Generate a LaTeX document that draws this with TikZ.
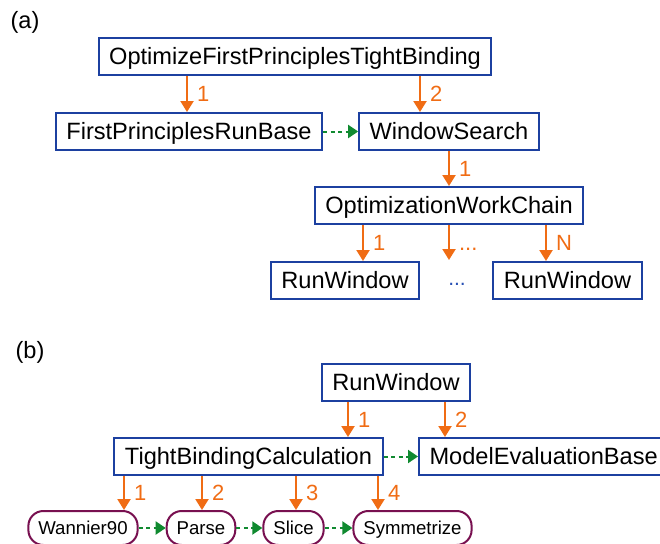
\documentclass[tikz,border=0pt]{standalone}
\usepackage{fontspec}
\setmainfont{Liberation Sans}
\usepackage{tikz}
\usetikzlibrary{arrows.meta,positioning}
\definecolor{boxblue}{RGB}{28,64,160}
\definecolor{callorange}{RGB}{240,108,20}
\definecolor{linkgreen}{RGB}{16,138,48}
\definecolor{calcred}{RGB}{120,16,80}
\definecolor{dotblue}{RGB}{40,80,180}

\begin{document}
\begin{tikzpicture}[x=1pt, y=-1pt,
    wfbox/.style={draw=boxblue, line width=2pt, fill=white, minimum height=37pt, inner xsep=10.5pt, text height=16.8pt, text depth=0pt, font=\fontsize{23.6}{28}\selectfont},
    calcbox/.style={draw=calcred, line width=2pt, rounded corners=15pt, fill=white, minimum height=34pt, inner xsep=10pt, text height=13.4pt, text depth=0pt, font=\fontsize{18.6}{22}\selectfont},
    callarrow/.style={draw=callorange, line width=2.2pt, -{Triangle[length=11pt,width=13pt]}},
    linkarrow/.style={draw=linkgreen, line width=2pt, dash pattern=on 4pt off 3.5pt, -{Triangle[length=10pt,width=13pt]}},
    callorder/.style={anchor=west, text=callorange, inner sep=0pt, xshift=9pt, text height=15.5pt, text depth=0pt, font=\fontsize{22}{26}\selectfont},
    panel/.style={font=\fontsize{23.6}{28}\selectfont}]
    \useasboundingbox (0,0) rectangle (660,543);

    % (a)
    \node[panel] (tagA) at (25,22) {(a)};
    \node[wfbox] (opt) at (295,56.5) {OptimizeFirstPrinciplesTightBinding};
    \node[wfbox] (fprb) at (189,131.5) {FirstPrinciplesRunBase};
    \node[wfbox] (wsearch) at (449,131.5) {WindowSearch};
    \node[wfbox] (owc) at (449,205.5) {OptimizationWorkChain};
    \node[wfbox] (runA) at (345,280.5) {RunWindow};
    \node[wfbox] (runN) at (567.5,280.5) {RunWindow};
    \node[text=dotblue, font=\fontsize{21}{25}\selectfont] (moreruns) at (457,284) {...};
    \coordinate (moretip) at (449,260);

    \draw[callarrow] ([xshift=-108pt]opt.south) -- node[callorder] {1} ([xshift=-2pt]fprb.north);
    \draw[callarrow] ([xshift=125pt]opt.south) -- node[callorder] {2} ([xshift=-29pt]wsearch.north);
    \draw[linkarrow] (fprb.east) -- (wsearch.west);
    \draw[callarrow] (wsearch.south) -- node[callorder] {1} (owc.north);
    \draw[callarrow] ([xshift=-86pt]owc.south) -- node[callorder] {1} ([xshift=18pt]runA.north);
    \draw[callarrow] (owc.south) -- node[callorder] {...} (moretip);
    \draw[callarrow] ([xshift=97pt]owc.south) -- node[callorder] {N} ([xshift=-21.5pt]runN.north);

    % (b)
    \node[panel] (tagB) at (30,352) {(b)};
    \node[wfbox] (run) at (396,382) {RunWindow};
    \node[wfbox] (tbc) at (248.5,456.5) {TightBindingCalculation};
    \node[wfbox, anchor=west] (meb) at (418,456.5) {ModelEvaluationBase};
    \node[calcbox] (wannier) at (83,528) {Wannier90};
    \node[calcbox] (parse) at (201,528) {Parse};
    \node[calcbox] (slice) at (293.5,528) {Slice};
    \node[calcbox] (symm) at (412.5,528) {Symmetrize};

    \draw[callarrow] ([xshift=-48pt]run.south) -- node[callorder] {1} ([xshift=99.5pt]tbc.north);
    \draw[callarrow] ([xshift=49pt]run.south) -- node[callorder] {2} ([xshift=27pt]meb.north west);
    \draw[linkarrow] (tbc.east) -- (meb.west);
    \draw[callarrow] ([xshift=-124.5pt]tbc.south) -- node[callorder] {1} ([xshift=41pt]wannier.north);
    \draw[callarrow] ([xshift=-46.5pt]tbc.south) -- node[callorder] {2} ([xshift=1pt]parse.north);
    \draw[callarrow] ([xshift=47.5pt]tbc.south) -- node[callorder] {3} ([xshift=2.5pt]slice.north);
    \draw[callarrow] ([xshift=129.5pt]tbc.south) -- node[callorder] {4} ([xshift=-34.5pt]symm.north);
    \draw[linkarrow] (wannier.east) -- (parse.west);
    \draw[linkarrow] (parse.east) -- (slice.west);
    \draw[linkarrow] (slice.east) -- (symm.west);
\end{tikzpicture}
\end{document}
